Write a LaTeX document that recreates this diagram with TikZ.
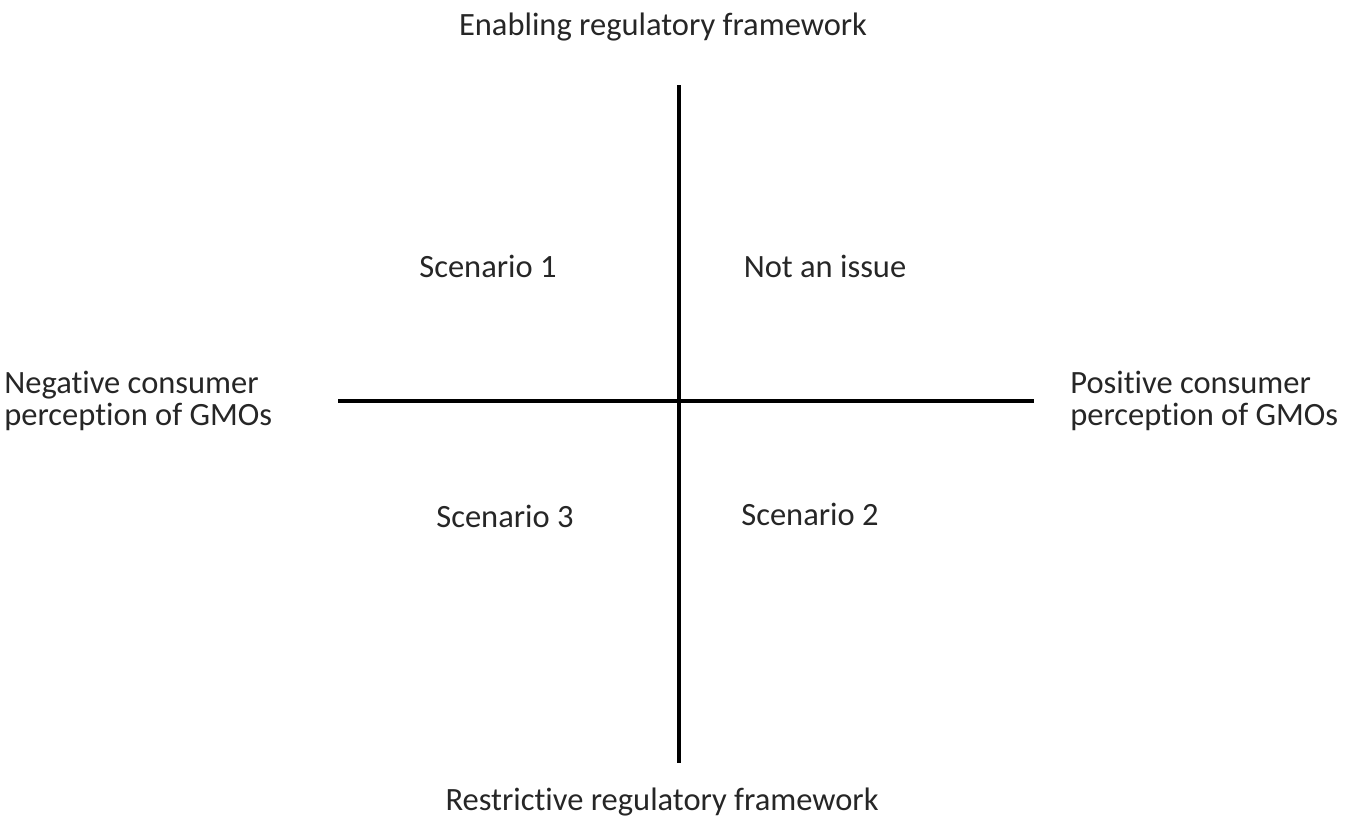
\documentclass[tikz,border=0pt]{standalone}
\usepackage{fontspec}
\setmainfont{Carlito}[Ligatures=NoCommon]
\begin{document}
\begin{tikzpicture}[x=0.02cm,y=-0.02cm,
  axis/.style={line width=2pt},
  lbl/.style={font=\fontsize{18.5}{18}\selectfont, inner sep=0pt, text=black!85},
  side/.style={lbl, align=left, anchor=west}]
  \useasboundingbox (0,0) rectangle (1347,818);

  \coordinate (top) at (679,85);
  \coordinate (bot) at (679,763);
  \coordinate (lft) at (338,401);
  \coordinate (rgt) at (1034,401);
  \draw[axis] (top) -- (bot);
  \draw[axis] (lft) -- (rgt);

  \node[lbl] (enable) at (663,27) {Enabling regulatory framework};
  \node[lbl] (restrict) at (662,802) {Restrictive regulatory framework};

  \node[lbl] (sc1) at (488,266) {Scenario 1};
  \node[lbl] (issue) at (825,266) {Not an issue};
  \node[lbl] (sc3) at (505,516) {Scenario 3};
  \node[lbl] (sc2) at (810,514) {Scenario 2};

  \node[side] (neg) at (4,401) {Negative consumer\\perception of GMOs};
  \node[side] (pos) at (1070,401) {Positive consumer\\perception of GMOs};

\end{tikzpicture}
\end{document}
